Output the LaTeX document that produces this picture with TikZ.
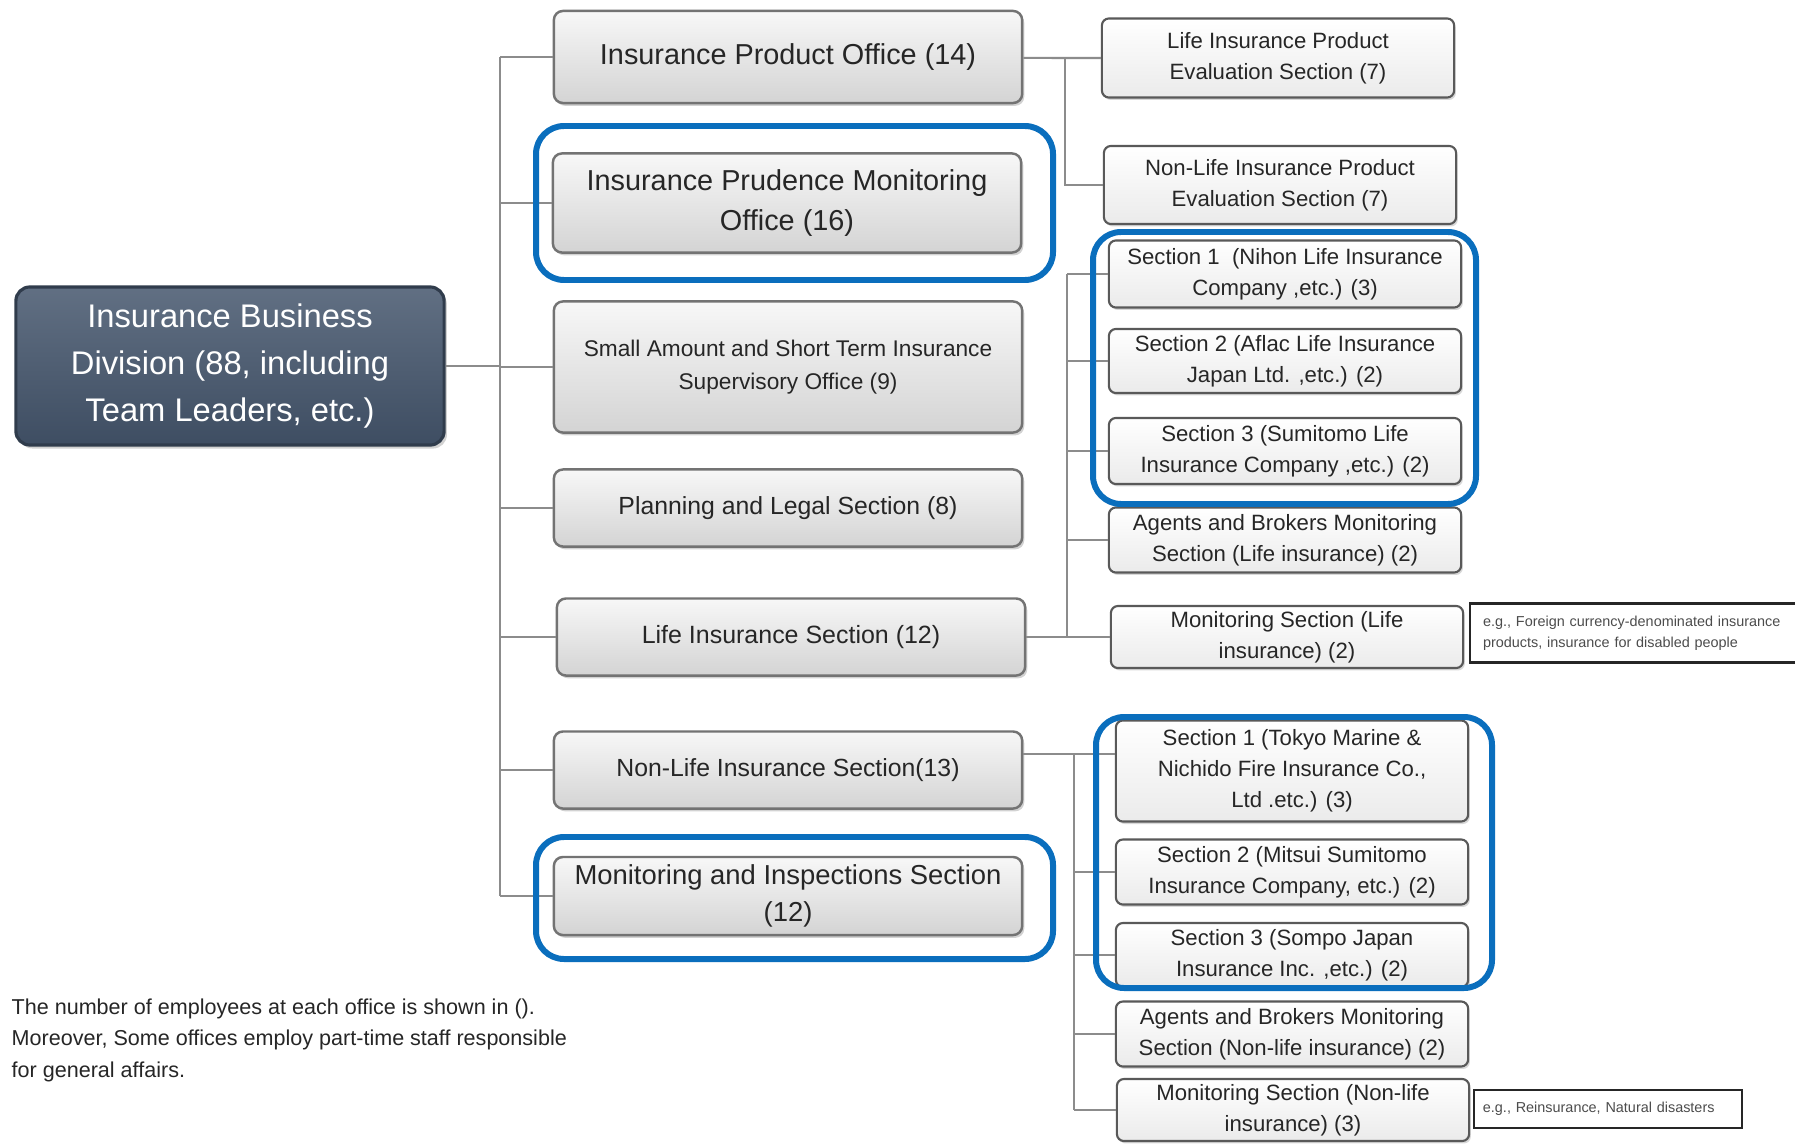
\documentclass[tikz,border=0pt]{standalone}
\usepackage{fontspec}
\setmainfont{Liberation Sans}
\usetikzlibrary{shadows}

\definecolor{divblue}{HTML}{45566D}
\definecolor{hlblue}{HTML}{0A6EBD}
\newcommand{\fsz}[2]{\fontsize{#1}{#2}\selectfont}

\begin{document}
\begin{tikzpicture}[x=0.01cm,y=-0.01cm,
	division/.style={draw=divblue!70!black, line width=0.9pt, rounded corners=0.14cm,
		top color=divblue!85!white, bottom color=divblue!90!black, text=white,
		align=center, inner sep=0pt, font=\fsz{9.3}{13.4},
		drop shadow={shadow xshift=0.8pt, shadow yshift=-1pt, opacity=0.35}},
	office/.style={draw=black!55, line width=0.7pt, rounded corners=0.09cm,
		top color=black!3, bottom color=black!17, text=black!85,
		align=center, inner sep=0pt, minimum width=4.68cm,
		drop shadow={shadow xshift=0.6pt, shadow yshift=-0.8pt, opacity=0.35}},
	section/.style={draw=black!65, line width=0.6pt, rounded corners=0.07cm,
		top color=white, bottom color=black!8, text=black!85,
		align=center, inner sep=0pt, minimum width=3.52cm, font=\fsz{6.3}{8.8},
		drop shadow={shadow xshift=0.5pt, shadow yshift=-0.7pt, opacity=0.3}},
	note/.style={draw=black!85, line width=0.6pt, fill=white, text=black!70,
		align=left, inner ysep=0pt, font=\fsz{4.1}{5.9}},
	conn/.style={draw=black!45, line width=0.6pt},
	hl/.style={draw=hlblue, line width=1.7pt, rounded corners=0.28cm}]

\fill[white] (0,0) rectangle (1795,1143);
\useasboundingbox (0,0) rectangle (1795,1143);

% division and its offices
\node[division, minimum width=4.28cm, minimum height=1.58cm] (div) at (230,366)
	{Insurance Business\\Division (88, including\\Team Leaders, etc.)};

\node[office, font=\fsz{8.2}{11.4}, minimum height=0.92cm] (prod) at (788,57) {Insurance Product Office (14)};
\node[office, font=\fsz{8.2}{11.4}, minimum height=0.99cm] (prud) at (787,203) {Insurance Prudence Monitoring\\Office (16)};
\node[office, font=\fsz{6.45}{9.4}, minimum height=1.31cm] (small) at (788,367) {Small Amount and Short Term Insurance\\Supervisory Office (9)};
\node[office, font=\fsz{7.05}{9.8}, minimum height=0.77cm] (plan) at (788,508) {Planning and Legal Section (8)};
\node[office, font=\fsz{7.1}{9.8}, minimum height=0.77cm] (life) at (791,637) {Life Insurance Section (12)};
\node[office, font=\fsz{7.05}{9.8}, minimum height=0.77cm] (nonlife) at (788,770) {Non-Life Insurance Section(13)};
\node[office, font=\fsz{7.8}{10.4}, minimum height=0.78cm] (insp) at (788,896) {Monitoring and Inspections Section\\(12)};

% sections
\node[section, minimum height=0.79cm] (lpe) at (1278,58) {Life Insurance Product\\Evaluation Section (7)};
\node[section, minimum height=0.78cm] (nlpe) at (1280,185) {Non-Life Insurance Product\\Evaluation Section (7)};

\node[section, minimum height=0.67cm] (l1) at (1285,274) {Section 1~ (Nihon Life Insurance\\Company ,etc.) (3)};
\node[section, minimum height=0.64cm] (l2) at (1285,361) {Section 2 (Aflac Life Insurance\\Japan Ltd. ,etc.) (2)};
\node[section, minimum height=0.66cm] (l3) at (1285,451) {Section 3 (Sumitomo Life\\Insurance Company ,etc.) (2)};
\node[section, minimum height=0.65cm] (l4) at (1285,540) {Agents and Brokers Monitoring\\Section (Life insurance) (2)};
\node[section, minimum height=0.62cm] (l5) at (1287,637) {Monitoring Section (Life\\insurance) (2)};

\node[section, minimum height=1.01cm] (n1) at (1292,771) {Section 1 (Tokyo Marine \&\\Nichido Fire Insurance Co.,\\Ltd .etc.) (3)};
\node[section, minimum height=0.65cm] (n2) at (1292,872) {Section 2 (Mitsui Sumitomo\\Insurance Company, etc.) (2)};
\node[section, minimum height=0.64cm] (n3) at (1292,955) {Section 3 (Sompo Japan\\Insurance Inc. ,etc.) (2)};
\node[section, minimum height=0.65cm] (n4) at (1292,1034) {Agents and Brokers Monitoring\\Section (Non-life insurance) (2)};
\node[section, minimum height=0.62cm] (n5) at (1293,1110) {Monitoring Section (Non-life\\insurance) (3)};

\node[note, anchor=west, minimum height=0.59cm, text width=3.2cm, inner xsep=0.13cm] (egl) at (1469,633)
	{e.g., Foreign currency-denominated insurance\\products, insurance for disabled people};
\node[note, minimum height=0.38cm, text width=2.5cm, inner xsep=0.09cm] (egn) at (1608,1109)
	{e.g., Reinsurance, Natural disasters};

\node[anchor=north west, align=left, inner sep=0pt, text=black!85, font=\fsz{6.13}{9}] (memo) at (11,998)
	{The number of employees at each office is shown in ().\\Moreover, Some offices employ part-time staff responsible\\for general affairs.};

% connectors
\coordinate (tk) at (500,366);
\coordinate (ta) at (1065,57);
\coordinate (tb) at (1067,637);
\coordinate (tc) at (1074,754);

\draw[conn] (div) -- (tk);
\draw[conn] (tk |- prod) -- (tk |- insp);
\foreach \n in {prod,prud,small,plan,life,nonlife,insp}
	\draw[conn] (tk |- \n) -- (\n);

\draw[conn] (prod) -- (ta |- lpe) -- (lpe);
\draw[conn] (ta |- lpe) |- (nlpe);

\draw[conn] (life) -- (tb |- life);
\draw[conn] (tb |- l1) -- (tb |- life);
\foreach \n in {l1,l2,l3,l4,l5}
	\draw[conn] (tb |- \n) -- (\n);

\draw[conn] (nonlife.east |- tc) -- (n1.west |- tc);
\draw[conn] (tc) -- (tc |- n5);
\foreach \n in {n2,n3,n4,n5}
	\draw[conn] (tc |- \n) -- (\n);

% highlighted groups
\draw[hl] (536,126) rectangle (1053,280);
\draw[hl] (536,837) rectangle (1053,959);
\draw[hl] (1093,232) rectangle (1476,504);
\draw[hl] (1096,717) rectangle (1492,988);
\end{tikzpicture}
\end{document}
